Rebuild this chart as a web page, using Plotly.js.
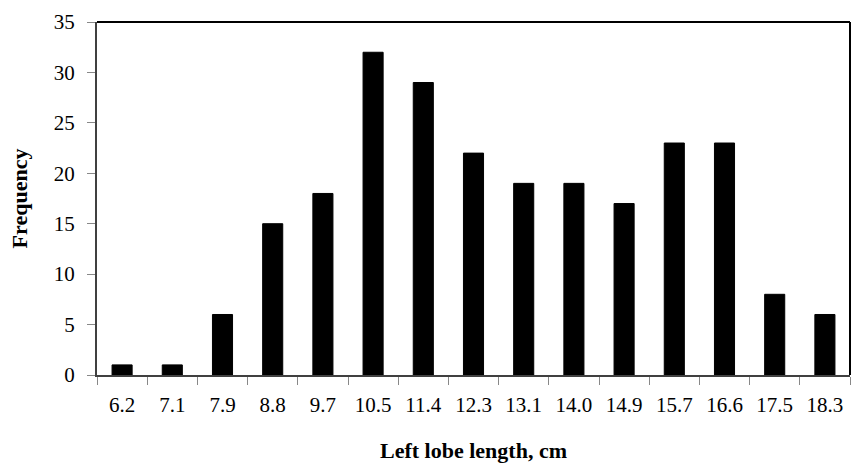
<!DOCTYPE html>
<html>
<head>
<meta charset="utf-8">
<script src="https://cdn.plot.ly/plotly-3.0.1.min.js"></script>
<style>html,body{margin:0;padding:0;background:#fff;}#chart{width:852px;height:466px;}</style>
</head>
<body>
<div id="chart"></div>
<script>
const categories = ["6.2","7.1","7.9","8.8","9.7","10.5","11.4","12.3","13.1","14.0","14.9","15.7","16.6","17.5","18.3"];
const frequency = [1,1,6,15,18,32,29,22,19,19,17,23,23,8,6];
const yTicks = [0,5,10,15,20,25,30,35];

const serif = "Liberation Serif, Times New Roman, serif";
const data = [{
  type: "bar",
  x: categories,
  y: frequency,
  marker: {color: "#000000", line: {color: "#000000", width: 1}},
  hoverinfo: "x+y"
}];
const layout = {
  width: 852, height: 466,
  margin: {l: 97, r: 2, t: 22, b: 91},
  paper_bgcolor: "#ffffff", plot_bgcolor: "#ffffff",
  bargap: 0.6,
  showlegend: false,
  font: {family: serif, color: "#000000"},
  xaxis: {
    type: "category",
    tickson: "boundaries",
    ticks: "outside", ticklen: 8, tickcolor: "#888888", tickwidth: 1,
    showline: true, linecolor: "#404040", linewidth: 2,
    showgrid: false, zeroline: false,
    tickfont: {family: serif, size: 21, color: "#000000"},
    ticklabelstandoff: 10,
    title: {text: "<b>Left lobe length, cm</b>", font: {family: serif, size: 22, color: "#000000"}, standoff: 26}
  },
  yaxis: {
    range: [0, 35],
    tickvals: yTicks,
    ticks: "outside", ticklen: 8, tickcolor: "#888888", tickwidth: 1,
    showline: true, linecolor: "#404040", linewidth: 2,
    showgrid: false, zeroline: false,
    tickfont: {family: serif, size: 21, color: "#000000"},
    ticklabelstandoff: 8,
    title: {text: "<b>Frequency</b>", font: {family: serif, size: 22, color: "#000000"}, standoff: 20}
  },
  shapes: [
    {type: "line", xref: "paper", yref: "paper", x0: 0, x1: 1, y0: 1, y1: 1, line: {color: "#000000", width: 2}},
    {type: "line", xref: "paper", yref: "paper", x0: 1, x1: 1, y0: 0, y1: 1, line: {color: "#000000", width: 2}}
  ]
};
Plotly.newPlot("chart", data, layout, {displayModeBar: false, staticPlot: true});
</script>
</body>
</html>
